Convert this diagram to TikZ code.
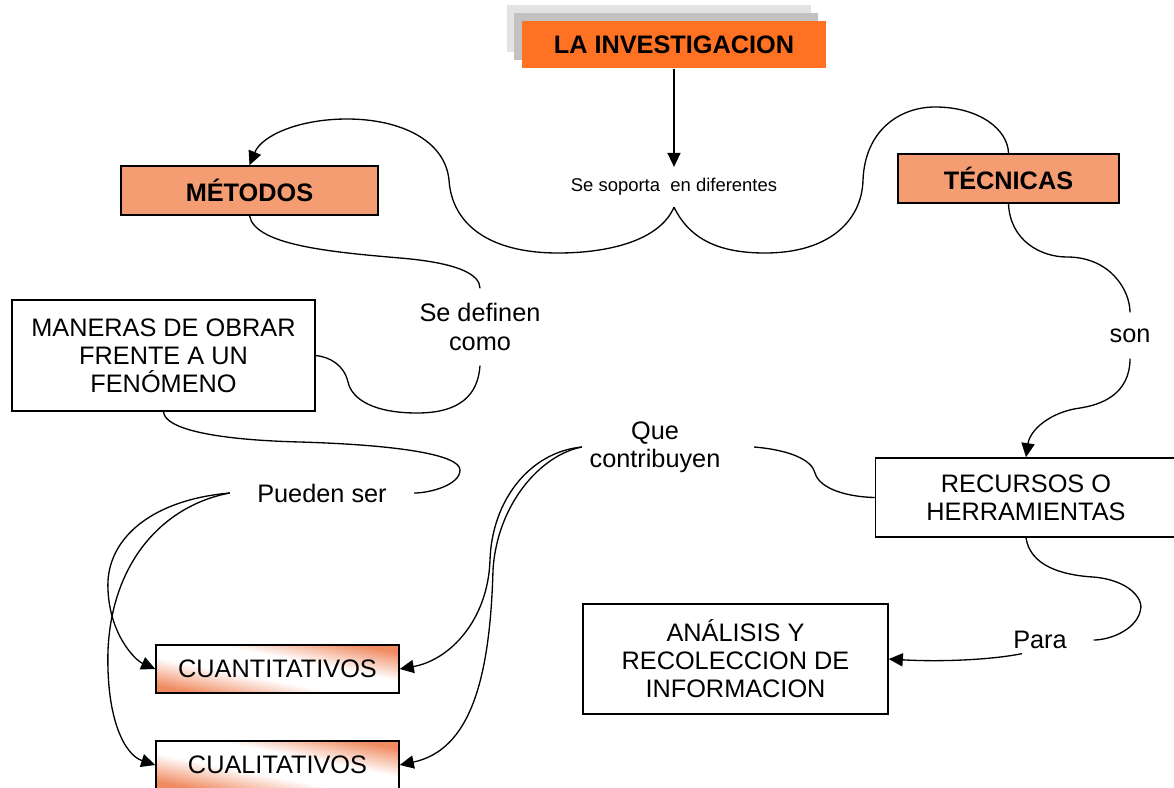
\documentclass[tikz,border=0pt]{standalone}
\usepackage{fontspec}
\setmainfont{Liberation Sans}
\usepackage{tikz}
\usetikzlibrary{arrows.meta}
\definecolor{invorange}{RGB}{255,113,35}
\definecolor{salmon}{RGB}{244,157,114}
\pgfdeclarefunctionalshading{salmondiag}{\pgfpointorigin}{\pgfpoint{100bp}{100bp}}{}{
  add 100 sub abs 50 div 0.25 sub 0.6 div dup 0 lt {pop 0} if dup 1 gt {pop 1} if
  dup 0.059 mul 1 exch sub exch
  dup 0.459 mul 1 exch sub exch
  0.624 mul 1 exch sub
}

\begin{document}
\begin{tikzpicture}[x=0.02cm,y=-0.02cm,line width=0.75pt,
  conceptbox/.style={shape=rectangle,draw,line width=0.9pt,align=center,inner sep=0pt,font=\fontsize{14.4}{16}\selectfont},
  headbox/.style={conceptbox,draw=none,fill=invorange,font=\bfseries\fontsize{14.4}{16}\selectfont},
  kindbox/.style={conceptbox,fill=salmon,font=\bfseries\fontsize{14.4}{16}\selectfont},
  typebox/.style={conceptbox,shading=salmondiag},
  linkword/.style={shape=rectangle,inner sep=0pt,align=center,font=\fontsize{14.4}{16}\selectfont},
  arr/.style={-{Triangle[length=8pt,width=7.5pt]}}]
\useasboundingbox (0,0) rectangle (1174,788);
\fill[gray!22] (507,5) rectangle (811,52);
\fill[gray!48] (514,13) rectangle (818,60);
\draw (674,44.5) node (inv) [headbox,minimum width=6.08cm,minimum height=0.94cm] {LA INVESTIGACION};
\draw (249.5,190.5) node (met) [kindbox,minimum width=5.14cm,minimum height=0.98cm] {MÉTODOS};
\draw (1008.5,178.5) node (tec) [kindbox,minimum width=4.42cm,minimum height=0.98cm] {TÉCNICAS};
\draw (163.5,355.5) node (man) [conceptbox,minimum width=6.06cm,minimum height=2.22cm] {MANERAS DE OBRAR\\FRENTE A UN\\FENÓMENO};
\draw (1026,497.5) node (rec) [conceptbox,minimum width=6.02cm,minimum height=1.58cm] {RECURSOS O\\HERRAMIENTAS};
\draw (735.5,659) node (ana) [conceptbox,minimum width=6.1cm,minimum height=2.2cm] {ANÁLISIS Y\\RECOLECCION DE\\INFORMACION};
\draw (277.5,669) node (cuan) [typebox,minimum width=4.86cm,minimum height=0.96cm] {CUANTITATIVOS};
\draw (277.5,765) node (cual) [typebox,minimum width=4.86cm,minimum height=0.96cm] {CUALITATIVOS};
\draw (674,187) node (soporta) [linkword,font=\fontsize{10.5}{12}\selectfont,minimum height=0.78cm] {Se soporta~ en diferentes};
\draw (480,327) node (definen) [linkword,minimum height=1.52cm] {Se definen\\como};
\draw (1130,335.5) node (son) [linkword,minimum height=0.9cm] {son};
\draw (655,447) node (contrib) [linkword,inner xsep=0.14cm] {Que\\contribuyen};
\draw (322,493) node (pueden) [linkword,minimum width=3.66cm] {Pueden ser};
\draw (1040,640) node (para) [linkword,minimum width=2.12cm,minimum height=0.52cm] {Para};
\draw[arr] (inv.south) -- (soporta.north);
\draw[arr] (soporta.south) .. controls (660,240) and (610,253) .. (558,253) .. controls (490,253) and (452,225) .. (449,180) .. controls (445,140) and (400,119) .. (347,119) .. controls (300,119) and (262,135) .. (met.north);
\draw (soporta.south) .. controls (690,240) and (720,253) .. (765,253) .. controls (830,253) and (862,220) .. (863,180) .. controls (865,130) and (900,107) .. (935,107) .. controls (980,107) and (1008,130) .. (tec.north);
\draw (tec.south) .. controls (1010,240) and (1040,257) .. (1067,257) .. controls (1110,257) and (1130,290) .. (son.north);
\draw[arr] (son.south) .. controls (1130,395) and (1100,405) .. (1080,408) .. controls (1050,412) and (1030,430) .. (rec.north);
\draw (met.south) .. controls (255,245) and (330,252) .. (400,258) .. controls (460,263) and (480,275) .. (definen.north);
\draw (definen.south) .. controls (478,395) and (460,413) .. (417,413) .. controls (375,413) and (352,400) .. (348,382) .. controls (344,365) and (330,357) .. (man.east);
\draw (man.south) .. controls (165,430) and (220,440) .. (300,442) .. controls (400,445) and (460,455) .. (460,470) .. controls (460,485) and (430,493) .. (pueden.east);
\draw[arr] (pueden.west) .. controls (150,500) and (105,540) .. (108,590) .. controls (110,635) and (135,660) .. (cuan.west);
\draw[arr] (pueden.west) .. controls (165,505) and (112,560) .. (108,650) .. controls (106,720) and (125,755) .. (cual.west);
\draw[arr] (contrib.west) .. controls (530,452) and (492,500) .. (490,560) .. controls (488,620) and (450,660) .. (cuan.east);
\draw[arr] (contrib.west) .. controls (540,455) and (497,505) .. (493,570) .. controls (490,680) and (470,750) .. (cual.east);
\draw ([xshift=0.52cm]contrib.east) .. controls (790,450) and (812,460) .. (815,473) .. controls (820,490) and (850,497) .. (rec.west);
\draw (rec.south) .. controls (1030,565) and (1060,575) .. (1093,577) .. controls (1130,580) and (1145,600) .. (1140,612) .. controls (1135,630) and (1110,640) .. (para.east);
\draw[arr] ([xshift=-0.36cm]para.south) .. controls (990,660) and (940,662) .. (ana.east);
\end{tikzpicture}
\end{document}
